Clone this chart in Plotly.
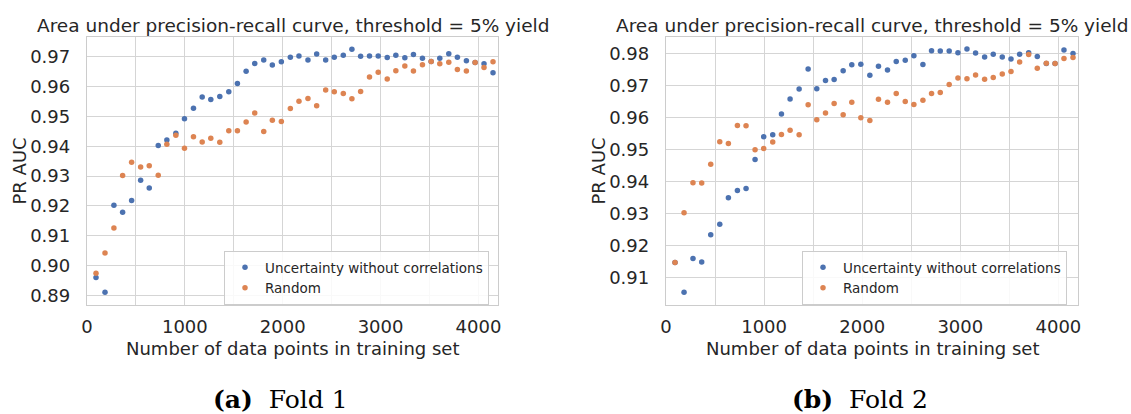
import plotly.graph_objects as go

# ---------------- data ----------------
x_points = [92, 184, 275, 364, 456, 548, 636, 728, 816, 908, 996, 1088, 1177, 1265, 1357, 1449,
            1537, 1626, 1714, 1806, 1894, 1986, 2078, 2166, 2258, 2347, 2439, 2527, 2619, 2707,
            2796, 2887, 2976, 3068, 3156, 3248, 3336, 3428, 3517, 3605, 3697, 3785, 3877, 3966,
            4057, 4149]

fold1_uncertainty = [0.8960, 0.8910, 0.9202, 0.9179, 0.9218, 0.9286, 0.9260, 0.9403, 0.9421, 0.9444,
                     0.9493, 0.9528, 0.9566, 0.9557, 0.9567, 0.9583, 0.9611, 0.9652, 0.9678, 0.9690,
                     0.9673, 0.9684, 0.9699, 0.9703, 0.9690, 0.9710, 0.9690, 0.9699, 0.9706, 0.9726,
                     0.9702, 0.9703, 0.9703, 0.9698, 0.9706, 0.9697, 0.9708, 0.9696, 0.9685, 0.9696,
                     0.9711, 0.9699, 0.9687, 0.9681, 0.9677, 0.9647]
fold1_random = [0.8974, 0.9042, 0.9126, 0.9302, 0.9347, 0.9331, 0.9335, 0.9303, 0.9407, 0.9437,
                0.9394, 0.9432, 0.9415, 0.9427, 0.9414, 0.9452, 0.9452, 0.9482, 0.9512, 0.9450,
                0.9488, 0.9483, 0.9527, 0.9551, 0.9561, 0.9536, 0.9589, 0.9583, 0.9577, 0.9560,
                0.9584, 0.9633, 0.9649, 0.9626, 0.9654, 0.9670, 0.9653, 0.9674, 0.9685, 0.9677,
                0.9682, 0.9658, 0.9653, 0.9681, 0.9665, 0.9684]

fold2_uncertainty = [0.9146, 0.9053, 0.9159, 0.9148, 0.9233, 0.9266, 0.9349, 0.9372, 0.9378, 0.9469,
                     0.9540, 0.9546, 0.9611, 0.9658, 0.9689, 0.9752, 0.9690, 0.9716, 0.9719, 0.9746,
                     0.9765, 0.9767, 0.9732, 0.9760, 0.9749, 0.9775, 0.9779, 0.9793, 0.9766, 0.9809,
                     0.9808, 0.9808, 0.9803, 0.9814, 0.9802, 0.9789, 0.9798, 0.9789, 0.9783, 0.9798,
                     0.9803, 0.9791, 0.9769, 0.9769, 0.9811, 0.9800]
fold2_random = [0.9146, 0.9302, 0.9396, 0.9395, 0.9454, 0.9524, 0.9519, 0.9575, 0.9574, 0.9499,
                0.9503, 0.9523, 0.9547, 0.9560, 0.9546, 0.9640, 0.9593, 0.9614, 0.9644, 0.9609,
                0.9648, 0.9599, 0.9591, 0.9657, 0.9648, 0.9675, 0.9650, 0.9641, 0.9654, 0.9675,
                0.9678, 0.9703, 0.9724, 0.9721, 0.9733, 0.9720, 0.9725, 0.9736, 0.9744, 0.9774,
                0.9797, 0.9754, 0.9770, 0.9769, 0.9785, 0.9788]

series_names = ["Uncertainty without correlations", "Random"]
title_text = "Area under precision-recall curve, threshold = 5% yield"
x_title = "Number of data points in training set"
y_title = "PR AUC"
captions = ["<b>(a)</b>  Fold 1", "<b>(b)</b>  Fold 2"]

# ---------------- layout helpers ----------------
W, H = 1131, 414
def px(x):
    return x / W
def py(y):
    return 1 - y / H

BLUE = "#4C72B0"
ORANGE = "#DD8452"
TEXT = "#262626"
GRID = "#d5d5d5"
SPINE = "#cccccc"
FONT = "DejaVu Sans"

fig = go.Figure()

panels = [
    dict(xa="x", ya="y", legend="legend", unc=fold1_uncertainty, rnd=fold1_random),
    dict(xa="x2", ya="y2", legend="legend2", unc=fold2_uncertainty, rnd=fold2_random),
]
for p in panels:
    fig.add_trace(go.Scatter(x=x_points, y=p["unc"], mode="markers", name=series_names[0],
                             marker=dict(color=BLUE, size=5.5, line=dict(width=0)),
                             xaxis=p["xa"], yaxis=p["ya"], legend=p["legend"]))
    fig.add_trace(go.Scatter(x=x_points, y=p["rnd"], mode="markers", name=series_names[1],
                             marker=dict(color=ORANGE, size=5.5, line=dict(width=0)),
                             xaxis=p["xa"], yaxis=p["ya"], legend=p["legend"]))

left_plot = (87, 498)
right_plot = (666, 1078)
top, bottom = 37, 305

xaxis_common = dict(range=[0, 4200], dtick=1000, tick0=0, showgrid=True, gridcolor=GRID, gridwidth=1,
                    minor=dict(dtick=500, tick0=0, showgrid=True, gridcolor=GRID, gridwidth=1),
                    showline=True, linecolor=SPINE, linewidth=1.3, mirror=True, zeroline=False,
                    ticks="", ticklabelstandoff=5, automargin=False,
                    tickfont=dict(family=FONT, size=18, color=TEXT))
yaxis_common = dict(dtick=0.01, tickformat=".2f", showgrid=True, gridcolor=GRID, gridwidth=1,
                    showline=True, linecolor=SPINE, linewidth=1.3, mirror=True, zeroline=False,
                    ticks="", ticklabelstandoff=12, automargin=False,
                    tickfont=dict(family=FONT, size=18, color=TEXT),
                    domain=[py(bottom), py(top)])

legend_common = dict(bgcolor="rgba(255,255,255,0.85)", bordercolor=SPINE, borderwidth=1,
                     font=dict(family=FONT, size=13.5, color=TEXT), xanchor="left", yanchor="top",
                     itemsizing="trace", tracegroupgap=0)

fig.update_layout(
    width=W, height=H, margin=dict(l=0, r=0, t=0, b=0),
    paper_bgcolor="white", plot_bgcolor="white",
    xaxis=dict(xaxis_common, domain=[px(left_plot[0]), px(left_plot[1])], anchor="y"),
    yaxis=dict(yaxis_common, range=[0.88675, 0.97670], anchor="x"),
    xaxis2=dict(xaxis_common, domain=[px(right_plot[0]), px(right_plot[1])], anchor="y2"),
    yaxis2=dict(yaxis_common, range=[0.90134, 0.98519], anchor="x2"),
    legend=dict(legend_common, x=px(224), y=py(251)),
    legend2=dict(legend_common, x=px(802), y=py(251)),
    showlegend=True,
)

annotations = []
for (l, r), ylab_x, cap_x, cap in [(left_plot, 18.5, 280, captions[0]), (right_plot, 597.5, 860, captions[1])]:
    cx = (l + r) / 2
    annotations.append(dict(text=title_text, x=px(cx), y=py(25), xref="paper", yref="paper",
                            xanchor="center", yanchor="middle", showarrow=False,
                            font=dict(family=FONT, size=18.5, color=TEXT)))
    annotations.append(dict(text=x_title, x=px(cx), y=py(348), xref="paper", yref="paper",
                            xanchor="center", yanchor="middle", showarrow=False,
                            font=dict(family=FONT, size=18, color=TEXT)))
    annotations.append(dict(text=y_title, x=px(ylab_x), y=py((top + bottom) / 2), xref="paper", yref="paper",
                            xanchor="center", yanchor="middle", showarrow=False, textangle=-90,
                            font=dict(family=FONT, size=18, color=TEXT)))
    annotations.append(dict(text=cap, x=px(cap_x), y=py(399), xref="paper", yref="paper",
                            xanchor="center", yanchor="middle", showarrow=False,
                            font=dict(family="DejaVu Serif", size=25, color="black")))
fig.update_layout(annotations=annotations)

fig.write_html("out.html")
